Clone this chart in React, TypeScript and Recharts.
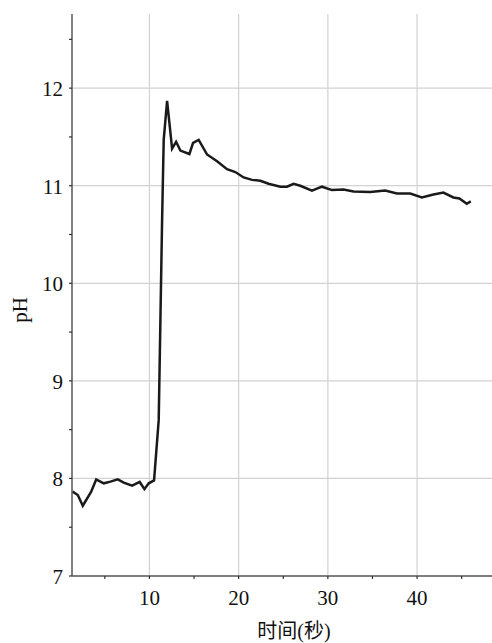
import React from 'react';
import { LineChart, Line, XAxis, YAxis, CartesianGrid } from 'recharts';

const time = [1.37, 1.97, 2.53, 3.47, 4.03, 4.88, 5.63, 6.45, 7.12, 8.06, 8.91, 9.44, 9.92, 10.52, 11.04, 11.42, 11.6, 11.98, 12.54, 12.99, 13.47, 14.48, 14.89, 15.52, 16.46, 17.58, 18.7, 19.63, 20.56, 21.5, 22.43, 23.36, 24.67, 25.42, 26.16, 26.91, 28.22, 29.34, 30.46, 31.76, 32.88, 34.75, 36.43, 37.74, 39.23, 40.54, 41.84, 42.96, 44.07, 44.75, 45.57, 46.02];
const ph = [7.865, 7.83, 7.72, 7.865, 7.99, 7.95, 7.967, 7.99, 7.957, 7.926, 7.964, 7.89, 7.95, 7.98, 8.6, 10.65, 11.47, 11.87, 11.38, 11.45, 11.36, 11.325, 11.44, 11.47, 11.32, 11.25, 11.17, 11.14, 11.085, 11.06, 11.05, 11.02, 10.99, 10.99, 11.02, 11.0, 10.95, 10.99, 10.955, 10.96, 10.94, 10.935, 10.95, 10.92, 10.92, 10.88, 10.91, 10.93, 10.88, 10.87, 10.815, 10.84];

const xTicks = [5, 10, 15, 20, 25, 30, 35, 40, 45];
const xGrid = [10, 20, 30, 40];
const yTicks = [7, 7.5, 8, 8.5, 9, 9.5, 10, 10.5, 11, 11.5, 12, 12.5];
const yGrid = [8, 9, 10, 11, 12];
const xTitle = '时间(秒)';
const yTitle = 'pH';

const data = time.map((t, i) => ({ t, ph: ph[i] }));

const FONT = "'Liberation Serif', 'Times New Roman', serif";

const XTick = (props: any) => {
  const { x, y, payload } = props;
  if (payload.value % 10 !== 0) return null;
  return (
    <text x={x} y={y + 24} textAnchor="middle" style={{ fontFamily: FONT, fontSize: 21 }} fill="#111">
      {payload.value}
    </text>
  );
};

const YTick = (props: any) => {
  const { x, y, payload } = props;
  if (payload.value % 1 !== 0) return null;
  return (
    <text x={x - 4} y={y + 8} textAnchor="end" style={{ fontFamily: FONT, fontSize: 21 }} fill="#111">
      {payload.value}
    </text>
  );
};

export default function App() {
  return (
    <div style={{ position: 'absolute', left: 0, top: 0, width: 492, height: 643, background: '#fff' }}>
      <LineChart width={492} height={643} data={data} margin={{ top: 14, right: 0, bottom: 0, left: 0 }}>
        <CartesianGrid stroke="#d2d2d2" strokeWidth={1.2} horizontalValues={yGrid} verticalValues={xGrid} />
        <XAxis
          dataKey="t"
          type="number"
          domain={[1.32, 48.4]}
          ticks={xTicks}
          allowDataOverflow
          height={67}
          axisLine={{ stroke: '#555', strokeWidth: 1.5 }}
          tickLine={{ stroke: '#333', strokeWidth: 1.2 }}
          tickSize={3}
          tick={<XTick />}
          interval={0}
          label={{
            content: () => (
              <text x={294} y={638} textAnchor="middle" style={{ fontFamily: "'Liberation Serif', 'Noto Sans CJK SC', serif", fontSize: 20 }} fill="#111">
                {xTitle}
              </text>
            ),
          }}
        />
        <YAxis
          type="number"
          domain={[7, 12.76]}
          ticks={yTicks}
          allowDataOverflow
          width={72}
          axisLine={{ stroke: '#555', strokeWidth: 1.5 }}
          tickLine={{ stroke: '#333', strokeWidth: 1.2 }}
          tickSize={3}
          tick={<YTick />}
          interval={0}
          label={{
            content: () => (
              <text x={0} y={0} transform="translate(27 310) rotate(-90)" textAnchor="middle" style={{ fontFamily: FONT, fontSize: 21 }} fill="#111">
                {yTitle}
              </text>
            ),
          }}
        />
        <Line dataKey="ph" type="linear" stroke="#1a1a1a" strokeWidth={2.5} dot={false} isAnimationActive={false} />
      </LineChart>
    </div>
  );
}
